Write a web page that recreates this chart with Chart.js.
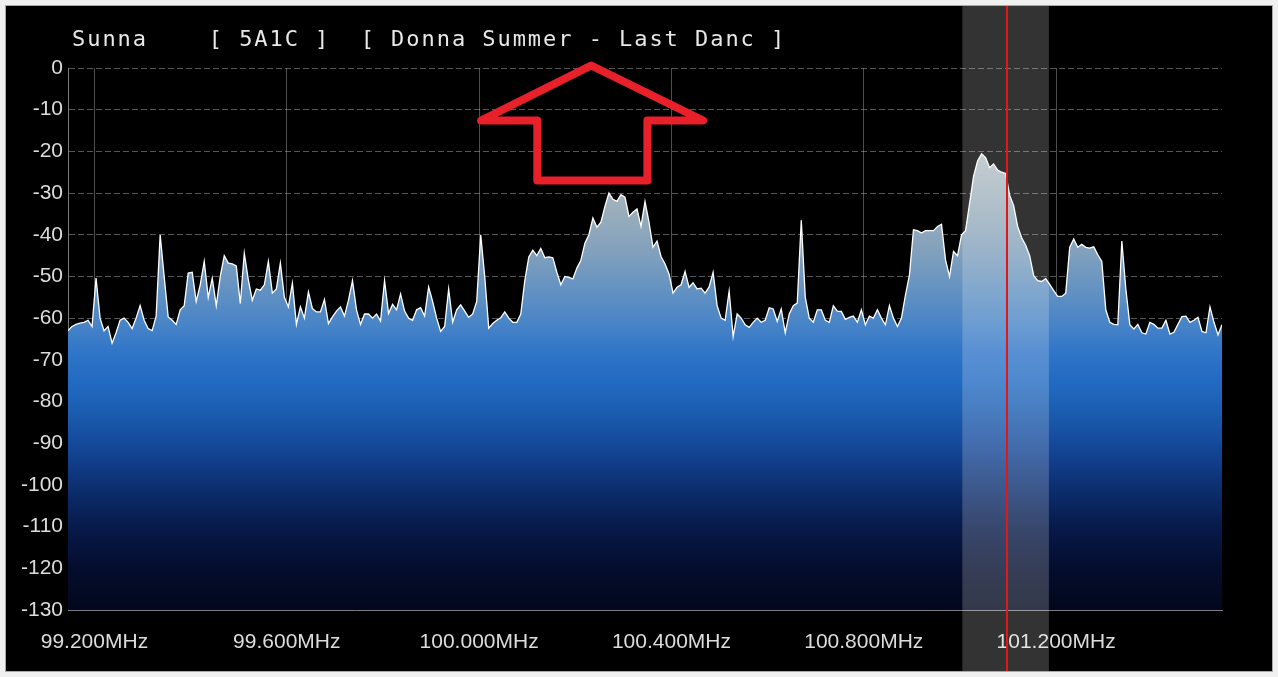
<!DOCTYPE html>
<html>
<head>
<meta charset="utf-8">
<script src="https://cdn.jsdelivr.net/npm/chart.js@4.4.1/dist/chart.umd.min.js"></script>
<style>
  html, body { margin: 0; padding: 0; background: #f0f0f0; }
  #spectrum { position: absolute; left: 0; top: 0; }
</style>
</head>
<body>
<canvas id="spectrum" width="1278" height="677"></canvas>
<script>
// spectrum sweep, one reading every ~8.3 kHz
const startMHz = 99.145;
const stepMHz = 2.4 / 288;
const levels = [
  -63, -62, -61.5, -61.2, -61, -60.5, -62, -50.4, -60, -63,
  -62, -66, -63.5, -60.5, -60, -61, -62.5, -60, -57, -60.5,
  -62.5, -63, -59.5, -40, -50, -59.7, -60.5, -61.5, -58, -57,
  -49.2, -49, -56, -52, -46.4, -55, -50.4, -57, -50, -45,
  -46.8, -47, -47.5, -56.5, -44.4, -50.8, -55.7, -53, -53.3, -52,
  -46.4, -54, -53, -46.8, -55, -57.3, -51.6, -61.5, -57.3, -60,
  -53.7, -57.7, -58.5, -58.5, -55.5, -61.3, -59.7, -58.3, -57.3, -59.5,
  -55.7, -51, -58, -61.5, -59, -59, -60, -59, -60.7, -51,
  -58.9, -56.7, -58, -54.2, -58.3, -60, -60.5, -58, -57.5, -59.5,
  -52.5, -56, -60, -63.2, -62, -53, -61, -58, -56.8, -58.3,
  -59.8, -59, -56, -40, -50, -62.4, -61.3, -60.5, -59.9, -58.5,
  -60, -61, -61, -59, -51, -45.3, -43.7, -45, -43.3, -45.5,
  -45.3, -45.5, -49, -52, -50, -50.2, -50.6, -48, -46.1, -42,
  -40, -36, -38.2, -37, -33.2, -30, -31.5, -32, -30.4, -31,
  -35.6, -34.6, -33.8, -38, -32, -37, -43, -41.5, -45.2, -47,
  -49.4, -54, -52.6, -52, -48.8, -52.6, -51.5, -53, -52.8, -54,
  -52.5, -49, -57, -60, -60.5, -53.5, -64.4, -59, -60, -61.6,
  -62.2, -61, -60, -61, -60.5, -57.5, -57.8, -60.8, -57.8, -63.5,
  -59, -57, -56.4, -36.5, -55, -60, -61, -58, -58, -60.5,
  -61, -57, -58.3, -58.4, -60.3, -59.8, -59.5, -61, -58, -61.6,
  -59.5, -60, -58, -60, -61.6, -57, -60, -62, -60, -54.5,
  -49.6, -38.8, -39, -39.6, -39, -39, -39, -38, -37.5, -46,
  -50, -44, -45, -40, -39, -32.5, -26, -22.3, -20.6, -21.5,
  -23.9, -23, -24.5, -25, -25.3, -30.5, -33, -38, -40.7, -42.5,
  -45, -49.8, -51, -51.2, -50.5, -51.9, -53.4, -54.8, -54.8, -54,
  -43, -41, -43, -42.3, -43, -43.2, -42.9, -44.8, -46.4, -58,
  -61, -61.5, -61.6, -41.5, -53, -61.6, -62.6, -61.5, -63.5, -63.8,
  -61, -61.5, -62.4, -62.4, -60.5, -63.8, -63.4, -61.5, -59.6, -59.5,
  -61, -60.5, -59.8, -63.2, -63.5, -57.3, -61, -64, -61.6
];
const freqTicks = [99.2, 99.6, 100.0, 100.4, 100.8, 101.2];
const dbMin = -130;
const dbMax = 0;

const stationName = 'Sunna    [ 5A1C ]  [ Donna Summer - Last Danc ]';
const tunedMHz = 101.098;
const filterLo = 101.005;
const filterHi = 101.185;

// red marker arrow drawn on the screenshot (MHz, dB)
const arrowMHz = [100.233, 100.466, 100.350, 100.350, 100.121, 100.121, 100.004];
const arrowDb = [0.6, -12.6, -12.6, -27.0, -27.0, -12.6, -12.6];

const points = levels.map((v, i) => ({ x: startMHz + i * stepMHz, y: v }));

function fillGradient(context) {
  const chart = context.chart;
  const { ctx, chartArea, scales } = chart;
  if (!chartArea) return '#2a6cc0';
  const y = scales.y;
  const g = ctx.createLinearGradient(0, y.getPixelForValue(-15), 0, y.getPixelForValue(-130));
  const stops = [
    [-15, '#c2cacd'], [-25, '#aebbc2'], [-35, '#98adbb'], [-45, '#7f9fbd'],
    [-55, '#5d8fc3'], [-62, '#4683c7'], [-68, '#3075c8'], [-75, '#226bc2'],
    [-82, '#1b5eb1'], [-90, '#15499b'], [-100, '#0d3072'], [-110, '#071a4a'],
    [-120, '#040d2d'], [-130, '#02071c']
  ];
  stops.forEach(([v, c]) => g.addColorStop((-15 - v) / 115, c));
  return g;
}

const panel = {
  id: 'panel',
  beforeDraw(chart) {
    const c = chart.ctx;
    c.save();
    c.fillStyle = '#f0f0f0';
    c.fillRect(0, 0, chart.width, chart.height);
    c.fillStyle = '#000';
    c.fillRect(6, 6, 1266, 665);
    c.strokeStyle = '#a8a8a8';
    c.lineWidth = 1;
    c.strokeRect(5.5, 5.5, 1267, 666);
    c.fillStyle = '#e8e8e8';
    c.font = '22px "DejaVu Sans Mono"';
    c.letterSpacing = '1.95px';
    c.textBaseline = 'alphabetic';
    c.fillText(stationName, 72, 46);
    c.restore();
  }
};

const overlay = {
  id: 'overlay',
  afterDraw(chart) {
    const c = chart.ctx;
    const x = chart.scales.x, y = chart.scales.y;
    c.save();
    const x0 = x.getPixelForValue(filterLo), x1 = x.getPixelForValue(filterHi);
    c.fillStyle = 'rgba(255,255,255,0.2)';
    c.fillRect(x0, 6, x1 - x0, 665);
    const xr = Math.round(x.getPixelForValue(tunedMHz));
    c.strokeStyle = '#e41616';
    c.lineWidth = 2;
    c.beginPath();
    c.moveTo(xr, 6);
    c.lineTo(xr, 671);
    c.stroke();
    c.strokeStyle = '#e8202a';
    c.lineWidth = 8;
    c.lineJoin = 'round';
    c.beginPath();
    arrowMHz.forEach((f, i) => {
      const px = x.getPixelForValue(f), py = y.getPixelForValue(arrowDb[i]);
      if (i === 0) c.moveTo(px, py); else c.lineTo(px, py);
    });
    c.closePath();
    c.stroke();
    c.restore();
  }
};

new Chart(document.getElementById('spectrum'), {
  type: 'line',
  data: {
    datasets: [{
      data: points,
      borderColor: '#ffffff',
      borderWidth: 1.3,
      pointRadius: 0,
      tension: 0,
      fill: 'start',
      backgroundColor: fillGradient
    }]
  },
  options: {
    responsive: false,
    animation: false,
    events: [],
    layout: { padding: { left: 0, top: 68, right: 56, bottom: 17 } },
    plugins: { legend: { display: false }, tooltip: { enabled: false } },
    scales: {
      x: {
        type: 'linear',
        min: startMHz,
        max: startMHz + 2.4,
        z: 1,
        afterBuildTicks: (s) => { s.ticks = freqTicks.map(v => ({ value: v })); },
        afterFit: (s) => { s.height = 50; },
        grid: { color: 'rgba(185,185,185,0.42)', lineWidth: 1, drawTicks: false },
        border: { color: '#7c7c86', width: 1 },
        ticks: {
          color: '#dcdcdc',
          padding: 20,
          maxRotation: 0,
          font: { family: '"Liberation Sans", Arial, sans-serif', size: 21 },
          callback: (v) => Number(v).toFixed(3) + 'MHz'
        }
      },
      y: {
        min: dbMin,
        max: dbMax,
        z: 1,
        afterFit: (s) => { s.width = 68; },
        grid: { color: 'rgba(190,190,190,0.45)', lineWidth: 1, drawTicks: false },
        border: { color: '#7a7a7a', width: 1, dash: [6, 3] },
        ticks: {
          stepSize: 10,
          color: '#dcdcdc',
          padding: 5,
          font: { family: '"Liberation Sans", Arial, sans-serif', size: 21 }
        }
      }
    }
  },
  plugins: [panel, overlay]
});
</script>
</body>
</html>
